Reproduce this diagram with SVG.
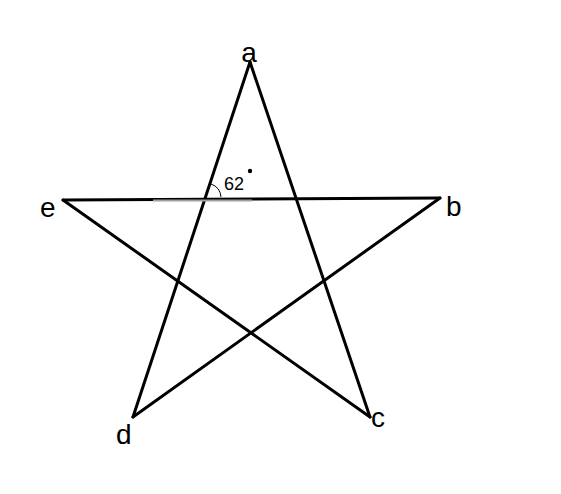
<svg xmlns="http://www.w3.org/2000/svg" width="561" height="494" viewBox="0 0 561 494">
<style>
.ln{stroke:#000;stroke-width:3;fill:none;stroke-linecap:round}
.lbl{font-family:"Liberation Sans",Arial,sans-serif;font-size:28px;fill:#000}
.ang{font-family:"Liberation Sans",Arial,sans-serif;font-size:18px;fill:#000}
</style>
<rect width="561" height="494" fill="#fff"/>
<g id="connectors">
<line class="ln" x1="250" y1="62" x2="133" y2="417"/>
<line class="ln" x1="250" y1="62" x2="370" y2="417"/>
<line class="ln" x1="63" y1="200" x2="440" y2="198"/>
<line class="ln" x1="63" y1="200" x2="370" y2="417"/>
<line class="ln" x1="440" y1="198" x2="133" y2="417"/>
<line x1="153" y1="200.5" x2="252" y2="200.5" stroke="#a0a0a0" stroke-width="2"/>
</g>
<g id="a"><text class="lbl" x="249" y="62" text-anchor="middle">a</text></g>
<g id="b"><text class="lbl" x="446" y="216">b</text></g>
<g id="c"><text class="lbl" x="371" y="427">c</text></g>
<g id="d"><text class="lbl" x="116" y="444">d</text></g>
<g id="e"><text class="lbl" x="40" y="217">e</text></g>
<g id="angle">
<path d="M 211 184 A 15 15 0 0 1 221 197" fill="none" stroke="#000" stroke-width="1"/>
<text class="ang" x="224" y="190">62</text>
<circle cx="250" cy="171" r="2.2" fill="#000"/>
</g>
</svg>
